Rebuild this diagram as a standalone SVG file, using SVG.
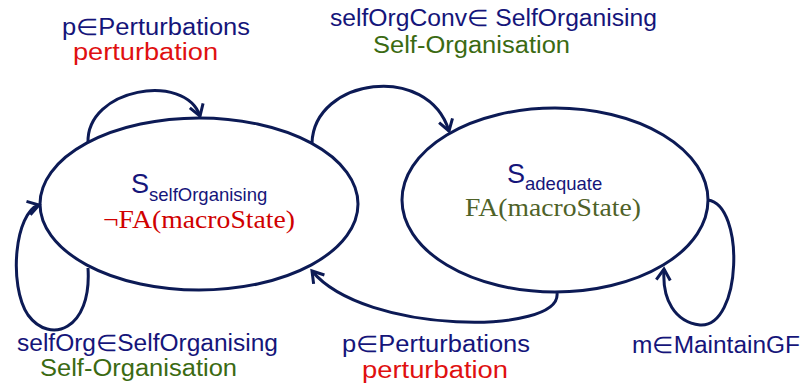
<svg xmlns="http://www.w3.org/2000/svg" width="807" height="385" viewBox="0 0 807 385">
<style>
.st{fill:none;stroke:#0c1a55;stroke-width:3}
.t{font-family:"Liberation Sans","Noto Sans",sans-serif;font-size:23px}
.s{font-family:"Liberation Serif","DejaVu Serif",serif;font-size:26px}
.sub{font-size:18.5px}
.big{font-size:27px}
.b{fill:#15157a}
.r{fill:#e01010}
.dr{fill:#d00000}
.g{fill:#3b6a12}
.og{fill:#4f6228}
</style>
<defs>
<marker id="ah" markerUnits="userSpaceOnUse" markerWidth="24" markerHeight="24" refX="0" refY="0" viewBox="-14 -12 20 24" orient="auto">
<path d="M-11,-7 L0,0 L-11,7" fill="none" stroke="#0c1a55" stroke-width="3"/>
</marker>
</defs>
<rect width="807" height="385" fill="#ffffff"/>
<g id="node-selfOrganising">
<ellipse class="st" cx="199" cy="204" rx="159" ry="86"/>
<text class="t b" x="131" y="193"><tspan class="big">S</tspan><tspan class="sub" dy="8">selfOrganising</tspan></text>
<text class="s dr" x="103" y="228" textLength="192" lengthAdjust="spacingAndGlyphs">¬FA(macroState)</text>
</g>
<g id="node-adequate">
<ellipse class="st" cx="555" cy="200" rx="153" ry="92"/>
<text class="t b" x="507" y="183"><tspan class="big">S</tspan><tspan class="sub" dy="7">adequate</tspan></text>
<text class="s og" x="465" y="216" textLength="176" lengthAdjust="spacingAndGlyphs">FA(macroState)</text>
</g>
<g id="connectors">
<path class="st" d="M88,143 C86,88 185,72 200,116" marker-end="url(#ah)"/>
<path class="st" d="M312,143 C314,78 428,62 449,131" marker-end="url(#ah)"/>
<path class="st" d="M88,268 C92,330 50,345 28,315 C8,285 15,212 39,205" marker-end="url(#ah)"/>
<path class="st" d="M557,293 C562,335 365,335 312,271" marker-end="url(#ah)"/>
<path class="st" d="M708,200 C745,205 742,328 700,325 C675,322 662,300 664,269" marker-end="url(#ah)"/>
</g>
<g id="labels">
<text class="t b" x="62" y="35" textLength="188" lengthAdjust="spacingAndGlyphs">p∈Perturbations</text>
<text class="t r" x="73" y="60" textLength="145" lengthAdjust="spacingAndGlyphs">perturbation</text>
<text class="t b" x="330" y="26" textLength="327" lengthAdjust="spacingAndGlyphs">selfOrgConv∈ SelfOrganising</text>
<text class="t g" x="373" y="53" textLength="197" lengthAdjust="spacingAndGlyphs">Self-Organisation</text>
<text class="t b" x="17" y="351" textLength="261" lengthAdjust="spacingAndGlyphs">selfOrg∈SelfOrganising</text>
<text class="t g" x="40" y="376" textLength="197" lengthAdjust="spacingAndGlyphs">Self-Organisation</text>
<text class="t b" x="342" y="352" textLength="188" lengthAdjust="spacingAndGlyphs">p∈Perturbations</text>
<text class="t r" x="362" y="378" textLength="146" lengthAdjust="spacingAndGlyphs">perturbation</text>
<text class="t b" x="632" y="353" textLength="168" lengthAdjust="spacingAndGlyphs">m∈MaintainGF</text>
</g>
</svg>
